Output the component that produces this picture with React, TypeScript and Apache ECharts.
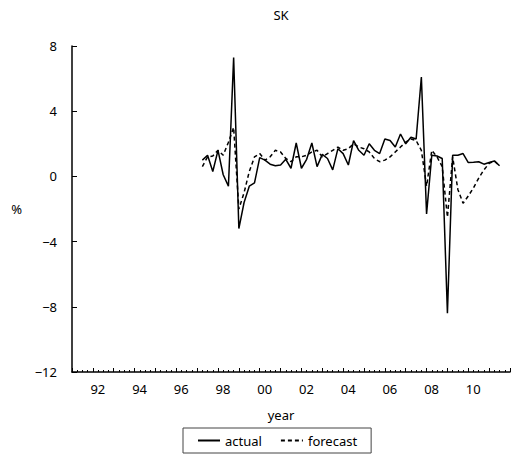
import React, { useEffect, useRef } from "react";
import * as echarts from "echarts";

// Quarterly sample: 1997Q1 .. 2011Q2
const startYear = 1997;
const quarterCount = 58;
const quarterLabels: string[] = [];
for (let i = 0; i < quarterCount; i++) {
  quarterLabels.push(`${startYear + Math.floor(i / 4)}Q${(i % 4) + 1}`);
}

const actual = [
  1.0, 1.3, 0.3, 1.6, 0.1, -0.6, 7.3, -3.2,
  -1.6, -0.6, -0.4, 1.15, 1.0, 0.75, 0.65, 0.7,
  1.05, 0.5, 2.05, 0.5, 1.05, 2.05, 0.6, 1.35,
  1.1, 0.4, 1.7, 1.4, 0.7, 2.2, 1.6, 1.3,
  2.0, 1.6, 1.4, 2.3, 2.2, 1.8, 2.6, 2.0,
  2.4, 2.3, 6.1, -2.3, 1.3, 1.25, 1.1, -8.4,
  1.3, 1.3, 1.4, 0.85, 0.87, 0.9, 0.75, 0.85,
  0.95, 0.65,
];

const forecast = [
  0.6, 1.2, 1.25, 1.6, 1.3, 2.1, 3.0, -2.0,
  -1.0, 0.3, 1.2, 1.4, 1.0, 1.2, 1.6, 1.5,
  1.1, 0.9, 1.2, 1.2, 1.3, 1.5, 1.6, 1.2,
  1.4, 1.6, 1.8, 1.6, 1.7, 2.0, 1.8, 1.7,
  1.5, 1.1, 0.9, 1.0, 1.2, 1.5, 1.8, 2.1,
  2.3, 2.2, 1.6, -0.6, 1.6, 1.2, 0.6, -2.5,
  1.2, -0.8, -1.65, -1.2, -0.7, -0.1, 0.4, 0.8,
  0.95, 0.65,
];

const yTicks = [-12, -8, -4, 0, 4, 8];
const seriesNames = ["actual", "forecast"];
const titleText = "SK";
const xName = "year";
const yName = "%";

const FONT = "'Noto Sans', 'Open Sans', sans-serif";

function quarterToX(label: string): number {
  const y = parseInt(label.slice(0, 4), 10);
  const q = parseInt(label.slice(5), 10);
  return y + q / 4;
}

export default function App() {
  const ref = useRef<HTMLDivElement>(null);
  useEffect(() => {
    if (!ref.current) return;
    const chart = echarts.init(ref.current, null, { renderer: "svg" });
    const toPairs = (vals: number[]) =>
      vals.map((v, i) => [quarterToX(quarterLabels[i]), v]);
    chart.setOption({
      animation: false,
      backgroundColor: "#ffffff",
      title: [
        {
          text: titleText,
          left: 276,
          top: 3,
          textAlign: "center",
          textStyle: { fontFamily: FONT, fontSize: 13, fontWeight: "normal", color: "#000" },
        },
        {
          text: xName,
          left: 276,
          top: 403,
          textAlign: "center",
          textStyle: { fontFamily: FONT, fontSize: 13, fontWeight: "normal", color: "#000" },
        },
      ],
      legend: {
        data: seriesNames,
        left: 183,
        top: 428,
        borderColor: "#444",
        borderWidth: 1,
        borderRadius: 0,
        padding: [6, 14, 6, 14],
        itemWidth: 22,
        itemHeight: 10,
        itemGap: 18,
        itemStyle: { opacity: 0 },
        textStyle: { fontFamily: FONT, fontSize: 13, color: "#000" },
      },
      grid: { left: 72, right: 3, top: 46, bottom: 92, containLabel: false },
      xAxis: {
        type: "value",
        min: 1991,
        max: 2012,
        interval: 1,
        axisLine: { show: true, onZero: false, lineStyle: { color: "#000", width: 1.5 } },
        axisTick: { show: true, inside: true, length: 4, lineStyle: { color: "#000", width: 1 } },
        minorTick: { show: true, splitNumber: 4, length: 2, lineStyle: { color: "#000", width: 1 } },
        splitLine: { show: false },
        axisLabel: {
          fontFamily: FONT,
          fontSize: 13,
          color: "#000",
          margin: 10,
          padding: [0, 0, 0, 10],
          formatter: (v: number) =>
            v % 2 === 0 && v < 2012 ? String(v % 100).padStart(2, "0") : "",
        },
      },
      yAxis: {
        type: "value",
        min: yTicks[0],
        max: yTicks[yTicks.length - 1],
        interval: 4,
        name: yName,
        nameLocation: "middle",
        nameRotate: 0,
        nameGap: 50,
        nameTextStyle: { fontFamily: FONT, fontSize: 13, color: "#000" },
        axisLine: { show: true, onZero: false, lineStyle: { color: "#000", width: 1.5 } },
        axisTick: { show: true, inside: true, length: 5, lineStyle: { color: "#000", width: 1 } },
        splitLine: { show: false },
        axisLabel: {
          fontFamily: FONT,
          fontSize: 13,
          color: "#000",
          margin: 15,
          formatter: (v: number) => (v < 0 ? "\u2212" + Math.abs(v) : String(v)),
        },
      },
      series: [
        {
          name: seriesNames[0],
          type: "line",
          data: toPairs(actual),
          symbol: "none",
          lineStyle: { color: "#000", width: 1.5, type: "solid" },
          itemStyle: { color: "#000" },
        },
        {
          name: seriesNames[1],
          type: "line",
          data: toPairs(forecast),
          symbol: "none",
          lineStyle: { color: "#000", width: 1.5, type: [4, 3] },
          itemStyle: { color: "#000" },
        },
      ],
    });
    return () => chart.dispose();
  }, []);
  return <div ref={ref} style={{ width: 513, height: 464, position: "absolute", left: 0, top: 0 }} />;
}
